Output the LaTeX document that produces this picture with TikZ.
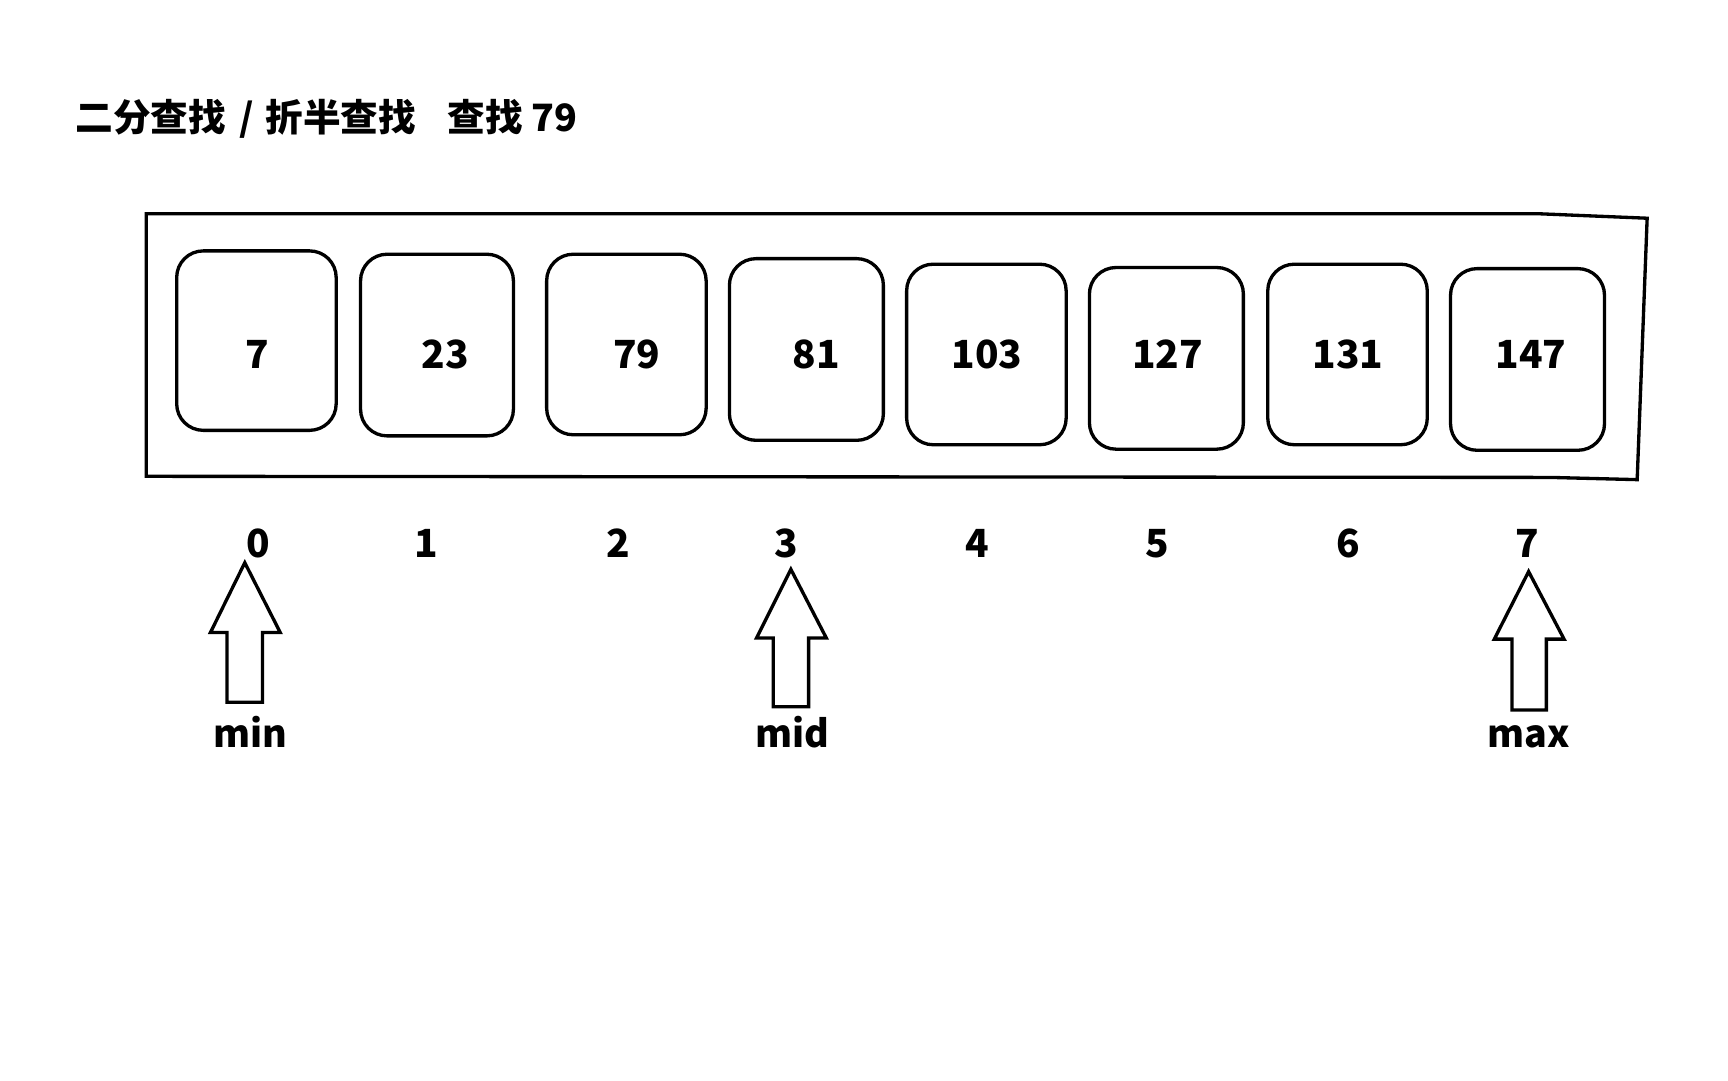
\documentclass[tikz,border=0pt]{standalone}
\usepackage{fontspec}
\setmainfont{Noto Sans CJK SC}
\begin{document}
\begin{tikzpicture}[x=1pt,y=-1pt,
  every node/.style={font=\bfseries},
  cell/.style={draw,line width=3pt,rounded corners=24pt,inner sep=0pt},
  val/.style={anchor=base,font=\fontsize{35}{35}\selectfont\bfseries},
  idx/.style={anchor=base,font=\fontsize{35}{35}\selectfont\bfseries},
  ptr/.style={anchor=base,font=\fontsize{34}{34}\selectfont\bfseries},
  frame/.style={line width=3pt,line join=miter},
  blockarrow/.style={line width=3pt,line join=miter}]
\useasboundingbox (0,0) rectangle (1560,975);
\fill[white] (0,0) rectangle (1560,975);
% title
\node[anchor=base west,inner sep=0pt,font=\fontsize{34}{34}\selectfont\bfseries] (title) at (68,119)
  {二分查找\hspace{4pt} / \hspace{3pt}折半查找\hspace{28pt}查找 79};
% outer frame
\draw[frame] (132,193) -- (1390,193) -- (1487,197) -- (1478,433) -- (1400,431) -- (132,430) -- cycle;
% cells
\node[cell,minimum width=144pt,minimum height=162pt] (c0) at (231.5,307.5) {};
\node[cell,minimum width=138pt,minimum height=164pt] (c1) at (394.5,311.5) {};
\node[cell,minimum width=144pt,minimum height=163pt] (c2) at (565.5,311) {};
\node[cell,minimum width=139pt,minimum height=164pt] (c3) at (728,315.5) {};
\node[cell,minimum width=144pt,minimum height=163pt] (c4) at (890.5,320) {};
\node[cell,minimum width=139pt,minimum height=164pt] (c5) at (1053,323.5) {};
\node[cell,minimum width=144pt,minimum height=163pt] (c6) at (1216.5,320) {};
\node[cell,minimum width=139pt,minimum height=164pt] (c7) at (1379,324.5) {};
% values
\node[val] (v0) at (232,333) {7};
\node[val] (v1) at (402,333) {23};
\node[val] (v2) at (575,333) {79};
\node[val] (v3) at (737,333) {81};
\node[val] (v4) at (891,333) {103};
\node[val] (v5) at (1054,333) {127};
\node[val] (v6) at (1217,333) {131};
\node[val] (v7) at (1382,333) {147};
% indices
\node[idx] (i0) at (233,503) {0};
\node[idx] (i1) at (385,503) {1};
\node[idx] (i2) at (558,503) {2};
\node[idx] (i3) at (710,503) {3};
\node[idx] (i4) at (882,503) {4};
\node[idx] (i5) at (1045,503) {5};
\node[idx] (i6) at (1217,503) {6};
\node[idx] (i7) at (1379,503) {7};
% block arrows
\draw[blockarrow] (221,508) -- (253,571) -- (237,571) -- (237,634) -- (205,634) -- (205,571) -- (190,571) -- cycle;
\draw[blockarrow] (714,514) -- (746,576) -- (730,576) -- (730,638) -- (698,638) -- (698,576) -- (683,576) -- cycle;
\draw[blockarrow] (1380,516) -- (1412,577) -- (1396,577) -- (1396,641) -- (1365,641) -- (1365,577) -- (1349,577) -- cycle;
% pointer labels
\node[ptr] (pmin) at (226,675) {min};
\node[ptr] (pmid) at (715,675) {mid};
\node[ptr] (pmax) at (1380,675) {max};
\end{tikzpicture}
\end{document}
